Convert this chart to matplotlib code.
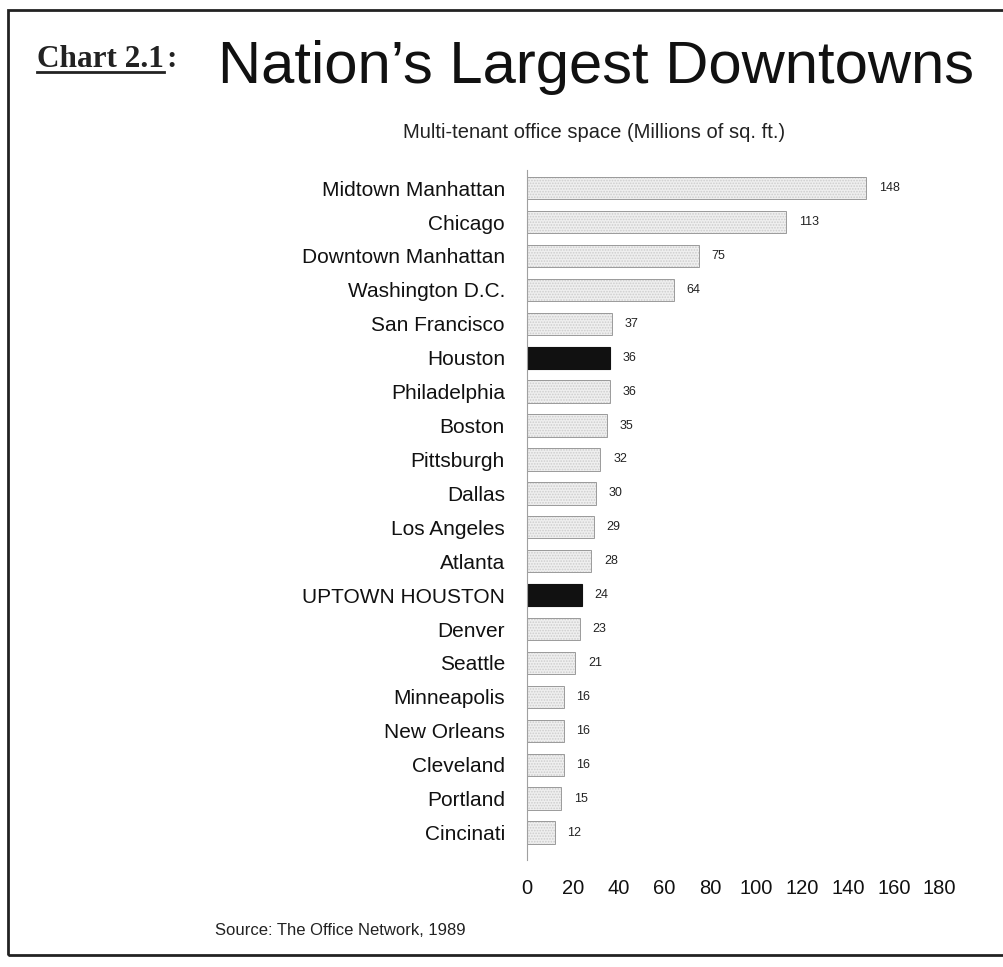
import matplotlib.pyplot as plt
from matplotlib.patches import Rectangle
from matplotlib.lines import Line2D

cities = ["Midtown Manhattan", "Chicago", "Downtown Manhattan", "Washington D.C.",
          "San Francisco", "Houston", "Philadelphia", "Boston", "Pittsburgh", "Dallas",
          "Los Angeles", "Atlanta", "UPTOWN HOUSTON", "Denver", "Seattle",
          "Minneapolis", "New Orleans", "Cleveland", "Portland", "Cincinati"]
space = [148, 113, 75, 64, 37, 36, 36, 35, 32, 30, 29, 28, 24, 23, 21, 16, 16, 16, 15, 12]
highlight = ["Houston", "UPTOWN HOUSTON"]
xticks = [0, 20, 40, 60, 80, 100, 120, 140, 160, 180]

plt.rcParams["font.family"] = ["Liberation Sans", "DejaVu Sans"]
plt.rcParams["hatch.color"] = "#cdcdcd"
plt.rcParams["hatch.linewidth"] = 0.8
serif = ["Liberation Serif", "DejaVu Serif"]

fig = plt.figure(figsize=(10.04, 9.67), dpi=100)
ax = fig.add_axes([0.525, 0.111, 0.411, 0.713])

ypos = list(range(len(cities)))
for y, city, val in zip(ypos, cities, space):
    if city in highlight:
        ax.barh(y, val, height=0.66, color="#111111", edgecolor="#111111", linewidth=0.8)
    else:
        # stippled fill first, then a thin outline on top
        ax.barh(y, val, height=0.66, color="#efefef", edgecolor="#cdcdcd",
                linewidth=0, hatch="......")
        ax.barh(y, val, height=0.66, fill=False, edgecolor="#9a9a9a", linewidth=0.7)
    ax.text(val + 5.5, y, str(val), va="center", ha="left", fontsize=9, color="#222222")

ax.set_xlim(0, 180)
ax.set_ylim(19.8, -0.53)
ax.set_xticks(xticks)
ax.set_xticklabels([str(t) for t in xticks], fontsize=14.5, color="#111111")
ax.set_yticks(ypos)
ax.set_yticklabels(cities, fontsize=15, color="#111111")
ax.tick_params(axis="x", length=0, pad=14)
ax.tick_params(axis="y", length=0, pad=16)
for s in ["top", "right", "bottom"]:
    ax.spines[s].set_visible(False)
ax.spines["left"].set_color("#a0a0a0")
ax.spines["left"].set_linewidth(0.8)

# page border
fig.patches.append(Rectangle((0.008, 0.012), 1.1, 0.978, transform=fig.transFigure,
                             fill=False, edgecolor="#222222", linewidth=2.0))

# "Chart 2.1:" label with only the number part underlined
rend = fig.canvas.get_renderer()
lab = fig.text(0.037, 0.931, "Chart 2.1", family=serif, fontsize=22.5, fontweight="bold",
               va="baseline", ha="left", color="#222222")
bb = lab.get_window_extent(renderer=rend).transformed(fig.transFigure.inverted())
fig.text(bb.x1 + 0.002, 0.931, ":", family=serif, fontsize=22.5, fontweight="bold",
         va="baseline", ha="left", color="#222222")
fig.lines.append(Line2D([0.037, bb.x1], [0.926, 0.926], transform=fig.transFigure,
                        color="#222222", linewidth=2.0))

fig.text(0.217, 0.914, "Nation\u2019s Largest Downtowns", fontsize=43,
         va="baseline", ha="left", color="#111111")
fig.text(0.592, 0.863, "Multi-tenant office space (Millions of sq. ft.)", fontsize=14.5,
         va="center", ha="center", color="#222222")
fig.text(0.214, 0.038, "Source: The Office Network, 1989", fontsize=12,
         va="center", ha="left", color="#222222")

fig.savefig("out.png", dpi=100)
